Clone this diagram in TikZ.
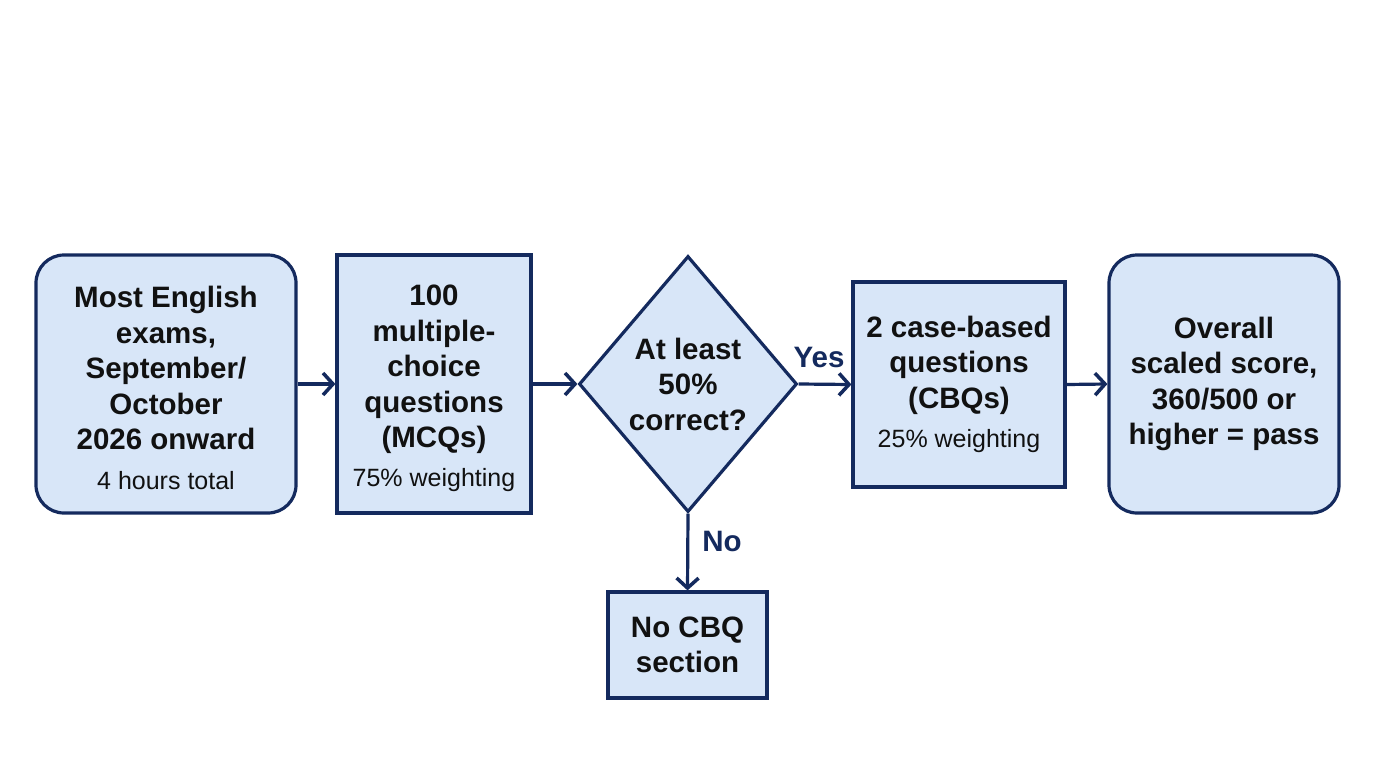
\documentclass[tikz,border=0pt]{standalone}
\usepackage{fontspec}
\setmainfont{Liberation Sans}
\usetikzlibrary{shapes.geometric,arrows.meta}
\definecolor{boxfill}{HTML}{D8E6F8}
\definecolor{navy}{HTML}{142A5E}
\definecolor{ink}{HTML}{111111}
\newcommand\ttlfont{\fontsize{29.5}{35.5}\selectfont\bfseries}
\newcommand\subfont{\fontsize{25}{30}\selectfont\mdseries}
\begin{document}
\begin{tikzpicture}[x=1pt,y=-1pt,
  shp/.style={draw=navy,fill=boxfill,line width=3.2pt,inner sep=0pt,align=center,text=ink,font=\ttlfont},
  rbox/.style={shp,rounded corners=28pt},
  sbox/.style={shp},
  dbox/.style={shp,diamond,aspect=0.85},
  arr/.style={draw=navy,line width=3.2pt,-{Straight Barb[length=10pt,width=22pt,line width=0pt 1.1]}},
  lbl/.style={text=navy,font=\ttlfont,inner sep=0pt}
]
\useasboundingbox (0,0) rectangle (1376,768);
\fill[white] (0,0) rectangle (1376,768);

\node[rbox,minimum width=260pt,minimum height=258pt] (A) at (166,384)
  {\\[-6pt]Most English\\exams,\\September/\\October\\2026 onward\\[4pt]{\subfont 4 hours total}};
\node[sbox,minimum width=194pt,minimum height=258pt] (B) at (434,384)
  {\\[-6pt]100\\multiple-\\choice\\questions\\(MCQs)\\[3pt]{\subfont 75\% weighting}};
\node[dbox,minimum width=218pt,minimum height=256pt] (Q) at (688,384)
  {At least\\50\%\\correct?};
\node[sbox,minimum width=212pt,minimum height=205pt] (C) at (959,384.5)
  {2 case-based\\questions\\(CBQs)\\[4pt]{\subfont 25\% weighting}};
\node[rbox,minimum width=230pt,minimum height=258pt] (D) at (1224,384)
  {Overall\\scaled score,\\360/500 or\\higher = pass};
\node[sbox,minimum width=159pt,minimum height=106pt] (E) at (687.5,645)
  {No CBQ\\section};

\node[lbl] (yes) at (819,357) {Yes};
\node[lbl] (no) at (722,541) {No};

\draw[arr] (A.east) -- (B.west);
\draw[arr] (B.east) -- (Q.west);
\draw[arr] (Q.east) -- (C.west);
\draw[arr] (C.east) -- (D.west);
\draw[arr] (Q.south) -- (E.north);
\end{tikzpicture}
\end{document}
